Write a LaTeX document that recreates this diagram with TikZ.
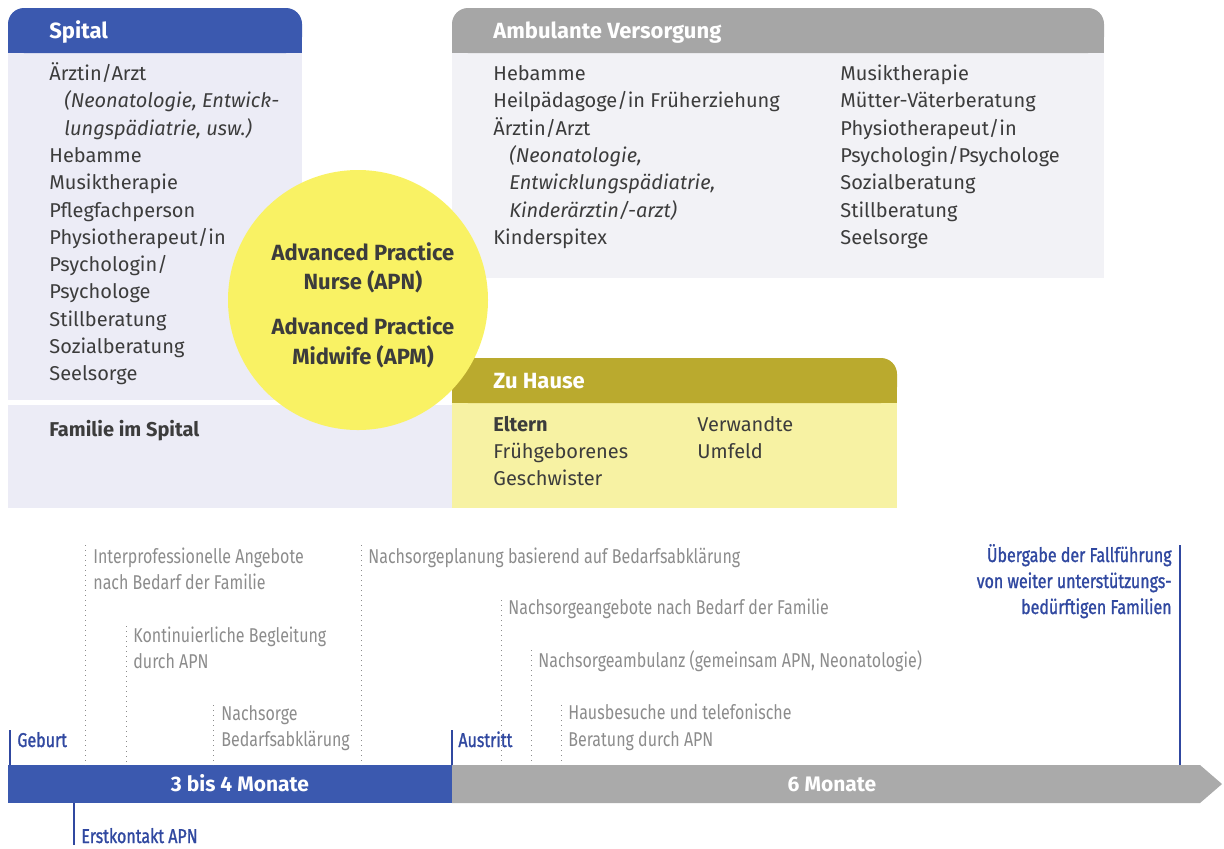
\documentclass[tikz,border=0pt]{standalone}
\usepackage{fontspec}
\setmainfont{Fira Sans}
\newfontfamily\schmal[FakeStretch=0.8]{Fira Sans}
\newfontfamily\schmalfett[FakeStretch=0.8,FakeBold=1.2]{Fira Sans}
\definecolor{spitalblau}{RGB}{59,89,175}
\definecolor{markeblau}{RGB}{48,72,160}
\definecolor{lavendel}{RGB}{236,236,246}
\definecolor{kopfgrau}{RGB}{166,166,166}
\definecolor{ambugrau}{RGB}{242,242,246}
\definecolor{oliv}{RGB}{186,170,46}
\definecolor{hausgelb}{RGB}{247,242,163}
\definecolor{kreisgelb}{RGB}{249,242,100}
\definecolor{balkengrau}{RGB}{170,170,170}
\definecolor{textgrau}{RGB}{60,60,60}
\definecolor{zeitgrau}{RGB}{140,140,140}
\begin{document}
\begin{tikzpicture}[x=0.5pt,y=-0.5pt]
  \tikzstyle{kopf}=[anchor=base west, inner sep=0, text=white, font=\fontsize{11}{13}\selectfont\bfseries]
  \tikzstyle{eintrag}=[anchor=base west, inner sep=0, text=textgrau, font=\fontsize{10}{12}\selectfont]
  \tikzstyle{kreistext}=[anchor=base, inner sep=0, text=textgrau, font=\fontsize{11}{13}\selectfont\bfseries]
  \tikzstyle{zeit}=[anchor=base west, inner sep=0, text=zeitgrau, font=\schmal\fontsize{10}{12}\selectfont]
  \tikzstyle{marke}=[anchor=base west, inner sep=0, text=markeblau, font=\schmalfett\fontsize{10}{12}\selectfont]
  \tikzstyle{balkentext}=[anchor=base, inner sep=0, text=white, font=\fontsize{10.5}{12}\selectfont\bfseries]
  \tikzstyle{punktlinie}=[draw=zeitgrau, dotted, line width=0.5pt]
  \tikzstyle{strich}=[draw=markeblau, line width=1pt]
  \useasboundingbox (0,0) rectangle (1224,848);
  % Spital
  \fill[lavendel] (8,30) rectangle (302,400);
  \fill[lavendel] (8,405) rectangle (452,508);
  \fill[spitalblau, rounded corners=8] (8,8) rectangle (302,53);
  \fill[spitalblau] (8,30) rectangle (302,53);
  % Ambulante Versorgung
  \fill[ambugrau] (452,30) rectangle (1104,278);
  \fill[kopfgrau, rounded corners=8] (452,8) rectangle (1104,53);
  \fill[kopfgrau] (452,30) rectangle (1104,53);
  % Zu Hause
  \fill[hausgelb] (452,380) rectangle (897,508);
  \fill[oliv, rounded corners=8] (452,358) rectangle (897,403);
  \fill[oliv] (452,380) rectangle (897,403);
  % APN / APM
  \node[circle, fill=kreisgelb, minimum size=130pt, inner sep=0] (apn) at (358,300) {};
  % Kopfzeilen
  \node[kopf] (spital) at (49,38) {Spital};
  \node[kopf] (ambulant) at (493,38) {Ambulante Versorgung};
  \node[kopf] (hause) at (493,388) {Zu Hause};
  % Eintraege
  \foreach \t [count=\i from 0] in {{Ärztin/Arzt},
      {\hspace{7.5pt}\itshape (Neonatologie, Entwick-},
      {\hspace{7.5pt}\itshape lungspädiatrie, usw.)},
      Hebamme, Musiktherapie, Pflegfachperson, {Physiotherapeut/in},
      {Psychologin/}, Psychologe, Stillberatung, Sozialberatung, Seelsorge} {
    \node[eintrag] (sp\i) at (49,80.5+27.3*\i) {\t};
  }
  \foreach \t [count=\i from 0] in {Hebamme, {Heilpädagoge/in Früherziehung},
      {Ärztin/Arzt}, {\hspace{8pt}\itshape (Neonatologie,},
      {\hspace{8pt}\itshape Entwicklungspädiatrie,},
      {\hspace{8pt}\itshape Kinderärztin/-arzt)}, Kinderspitex} {
    \node[eintrag] (amb\i) at (493,80.5+27.3*\i) {\t};
  }
  \foreach \t [count=\i from 0] in {Musiktherapie, Mütter-Väterberatung,
      {Physiotherapeut/in}, {Psychologin/Psychologe}, Sozialberatung,
      Stillberatung, Seelsorge} {
    \node[eintrag] (ambr\i) at (840,80.5+27.3*\i) {\t};
  }
  \node[eintrag, font=\fontsize{10}{12}\selectfont\bfseries] (familie) at (49,436) {Familie im Spital};
  \node[eintrag, font=\fontsize{10}{12}\selectfont\bfseries] (eltern) at (493,431) {Eltern};
  \node[eintrag] (frueh) at (493,458) {Frühgeborenes};
  \node[eintrag] (geschw) at (493,485) {Geschwister};
  \node[eintrag] (verw) at (697,431) {Verwandte};
  \node[eintrag] (umfeld) at (697,458) {Umfeld};
  \foreach \n/\y/\t in {k1/260/Advanced Practice, k2/289/Nurse (APN),
      k3/334/Advanced Practice, k4/364/Midwife (APM)} {
    \node[kreistext] (\n) at (363,\y) {\t};
  }
  % Zeitachse
  \fill[spitalblau] (8,765) rectangle (452,803);
  \fill[balkengrau] (452,765) -- (1200,765) -- (1222,784) -- (1200,803) -- (452,803) -- cycle;
  \node[balkentext] (phase1) at (240,791) {3 bis 4 Monate};
  \node[balkentext] (phase2) at (832,791) {6 Monate};
  \foreach \n/\x/\y in {interpro/85/545, begleit/126/626, bedarf/213/705,
      planung/361/545, angebot/501/600, ambulanz/531/650, hausbes/561/705} {
    \coordinate (\n-oben) at (\x,\y);
    \coordinate (\n-unten) at (\x,765);
    \draw[punktlinie] (\n-oben) -- (\n-unten);
  }
  \foreach \n/\x/\y/\t in {interpro1/93/563/Interprofessionelle Angebote,
      interpro2/93/589/nach Bedarf der Familie,
      begleit1/133/642/Kontinuierliche Begleitung, begleit2/133/668/durch APN,
      bedarf1/221/720/Nachsorge, bedarf2/221/746/Bedarfsabklärung,
      planung/368/563/Nachsorgeplanung basierend auf Bedarfsabklärung,
      angebot/508/614/Nachsorgeangebote nach Bedarf der Familie,
      ambulanz/538/667/{Nachsorgeambulanz (gemeinsam APN, Neonatologie)},
      hausbes1/568/719/Hausbesuche und telefonische,
      hausbes2/568/746/Beratung durch APN} {
    \node[zeit] (\n-text) at (\x,\y) {\t};
  }
  % Meilensteine
  \foreach \n/\x/\ya/\yb in {geburt/10/730/765, austritt/452/730/765,
      erstkontakt/74/803/845, uebergabe/1180/545/765} {
    \coordinate (\n-a) at (\x,\ya);
    \coordinate (\n-b) at (\x,\yb);
    \draw[strich] (\n-a) -- (\n-b);
  }
  \node[marke] (geburt) at (17,747) {Geburt};
  \node[marke] (austritt) at (458,747) {Austritt};
  \node[marke] (erstkontakt) at (81,843) {Erstkontakt APN};
  \node[marke, anchor=base east] (ueber1) at (1172,562) {Übergabe der Fallführung};
  \node[marke, anchor=base east] (ueber2) at (1172,588) {von weiter unterstützungs-};
  \node[marke, anchor=base east] (ueber3) at (1172,614) {bedürftigen Familien};
\end{tikzpicture}
\end{document}
